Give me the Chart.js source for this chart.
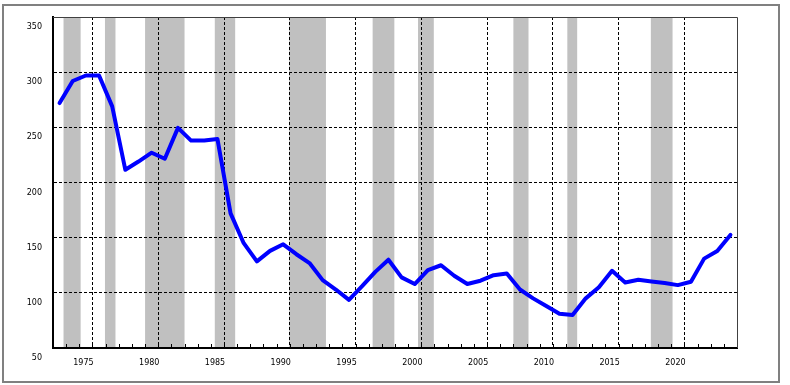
<!DOCTYPE html>
<html>
<head>
<meta charset="utf-8">
<script src="https://cdn.jsdelivr.net/npm/chart.js@4.4.1/dist/chart.umd.min.js"></script>
<style>
  html, body { margin: 0; padding: 0; background: #fff; }
  #wrap { width: 790px; height: 385px; }
</style>
</head>
<body>
<div id="wrap"><canvas id="chart" width="790" height="385"></canvas></div>
<script>
// yearly values, plotted at mid-year
const years = [
  1973, 1974, 1975, 1976, 1977, 1978, 1979, 1980, 1981, 1982,
  1983, 1984, 1985, 1986, 1987, 1988, 1989, 1990, 1991, 1992,
  1993, 1994, 1995, 1996, 1997, 1998, 1999, 2000, 2001, 2002,
  2003, 2004, 2005, 2006, 2007, 2008, 2009, 2010, 2011, 2012,
  2013, 2014, 2015, 2016, 2017, 2018, 2019, 2020, 2021, 2022,
  2023, 2024
];
const values = [
  272, 292, 297, 297, 269, 211.5, 219, 227, 221.5, 249.5,
  238, 238, 239.5, 172, 145, 128.5, 138, 144, 135, 127,
  111.5, 103, 93.6, 106, 119, 130, 114, 108, 120.6, 125,
  115.5, 108, 111, 116, 117.5, 103, 95, 88, 81, 80,
  95, 105, 120, 109.4, 111.8, 110.3, 109, 107, 110, 131,
  138, 152.5
];

// x tick labels; the grid line sits at the end of the labelled year
const xTickLabels = ['1975', '1980', '1985', '1990', '1995', '2000', '2005', '2010', '2015', '2020'];
const yTicks = [50, 100, 150, 200, 250, 300, 350];

// shaded periods (recessions), in decimal years
const shadeStart = [1973.8, 1976.95, 1980.0, 1985.3, 1990.95, 1997.3, 2000.75, 2008.0, 2012.1, 2018.45];
const shadeEnd   = [1975.1, 1977.75, 1983.0, 1986.85, 1993.75, 1998.95, 2001.95, 2009.15, 2012.85, 2020.1];

const decor = {
  id: 'decor',
  beforeDraw(chart) {
    const ctx = chart.ctx;
    const area = chart.chartArea;
    const xs = chart.scales.x;
    ctx.save();
    ctx.fillStyle = '#fff';
    ctx.fillRect(0, 0, chart.width, chart.height);
    ctx.strokeStyle = '#808080';
    ctx.lineWidth = 2;
    ctx.strokeRect(3, 5, 776, 377);
    ctx.fillStyle = '#c0c0c0';
    for (let i = 0; i < shadeStart.length; i++) {
      const x0 = xs.getPixelForValue(shadeStart[i]);
      const x1 = xs.getPixelForValue(shadeEnd[i]);
      ctx.fillRect(x0, area.top, x1 - x0, area.bottom - area.top);
    }
    ctx.restore();
  },
  afterDraw(chart) {
    const ctx = chart.ctx;
    const area = chart.chartArea;
    const xs = chart.scales.x;
    ctx.save();
    // small tick every year on the bottom axis
    ctx.strokeStyle = '#000';
    ctx.lineWidth = 1;
    ctx.beginPath();
    for (let y = years[0] + 1; y <= years[years.length - 1]; y++) {
      const px = Math.round(xs.getPixelForValue(y)) + 0.5;
      ctx.moveTo(px, area.bottom);
      ctx.lineTo(px, area.bottom - 4);
    }
    ctx.stroke();
    // top and right border
    ctx.strokeStyle = '#404040';
    ctx.beginPath();
    ctx.moveTo(area.left, area.top + 0.5);
    ctx.lineTo(area.right + 0.5, area.top + 0.5);
    ctx.lineTo(area.right + 0.5, area.bottom);
    ctx.stroke();
    ctx.restore();
  }
};

Chart.defaults.font.family = "'DejaVu Sans', sans-serif";
Chart.defaults.font.size = 8;
Chart.defaults.color = '#000';

new Chart(document.getElementById('chart'), {
  type: 'line',
  data: {
    datasets: [{
      data: years.map((y, i) => ({ x: y + 0.5, y: values[i] })),
      borderColor: '#0000ff',
      borderWidth: 4,
      pointRadius: 0,
      tension: 0,
      borderJoinStyle: 'round',
      borderCapStyle: 'round'
    }]
  },
  options: {
    responsive: false,
    animation: false,
    layout: { padding: { left: 0, top: 17, right: 53, bottom: 0 } },
    plugins: { legend: { display: false }, tooltip: { enabled: false } },
    scales: {
      x: {
        type: 'linear',
        min: years[0],
        max: years[years.length - 1] + 1,
        afterBuildTicks: (scale) => {
          scale.ticks = xTickLabels.map(l => ({ value: Number(l) + 1 }));
        },
        afterFit: (scale) => { scale.height = 37; },
        ticks: {
          autoSkip: false,
          maxRotation: 0,
          padding: 10,
          labelOffset: -9,
          callback: (v, i) => xTickLabels[i]
        },
        grid: { color: '#000', lineWidth: 1, drawTicks: false },
        border: { display: true, color: '#000', width: 2, dash: [3, 2] }
      },
      y: {
        min: yTicks[0],
        max: yTicks[yTicks.length - 1],
        afterBuildTicks: (scale) => {
          scale.ticks = yTicks.map(v => ({ value: v }));
        },
        afterFit: (scale) => { scale.width = 53; },
        ticks: { padding: 11, labelOffset: 10 },
        grid: { color: '#000', lineWidth: 1, drawTicks: false },
        border: { display: true, color: '#000', width: 2, dash: [3, 2] }
      }
    }
  },
  plugins: [decor]
});
</script>
</body>
</html>
